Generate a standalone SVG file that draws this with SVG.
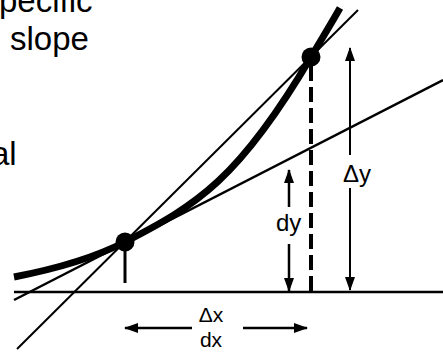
<svg xmlns="http://www.w3.org/2000/svg" width="443" height="352" viewBox="0 0 443 352">
<defs>
<style>
.t{font-family:"Liberation Sans",Arial,sans-serif;fill:#000}
.ln{stroke:#000;fill:none;stroke-linecap:butt}
</style>
<marker id="ah" viewBox="0 0 14 10" refX="13" refY="5" markerWidth="14" markerHeight="10" markerUnits="userSpaceOnUse" orient="auto">
<path d="M0,0 L14,5 L0,10 Z" fill="#000"/>
</marker>
</defs>
<rect width="443" height="352" fill="#fff"/>
<g id="texts">
<text class="t" x="-1" y="12" font-size="33">pecific</text>
<text class="t" x="10" y="50" font-size="33">slope</text>
<text class="t" x="-9" y="165" font-size="33">al</text>
</g>
<g id="connectors">
<line class="ln" x1="14" y1="292" x2="443" y2="292" stroke-width="2.5"/>
<line class="ln" x1="14" y1="300" x2="443" y2="80" stroke-width="2.5"/>
<line class="ln" x1="17" y1="349" x2="358" y2="10" stroke-width="2"/>
<path class="ln" d="M14,277 C50,270 90,260 125,242 C197,205 239,179 311,57 C321,40 331,24 340,8" stroke-width="7"/>
<line class="ln" x1="125" y1="242" x2="125" y2="283" stroke-width="3"/>
<line class="ln" x1="311" y1="66" x2="311" y2="292" stroke-width="4" stroke-dasharray="15 6"/>
<line class="ln" x1="350" y1="155" x2="350" y2="48" stroke-width="2" marker-end="url(#ah)"/>
<line class="ln" x1="350" y1="188" x2="350" y2="290" stroke-width="2" marker-end="url(#ah)"/>
<line class="ln" x1="289" y1="207" x2="289" y2="170" stroke-width="2.5" marker-end="url(#ah)"/>
<line class="ln" x1="289" y1="244" x2="289" y2="291" stroke-width="2.5" marker-end="url(#ah)"/>
<line class="ln" x1="192" y1="328" x2="125" y2="328" stroke-width="2.5" marker-end="url(#ah)"/>
<line class="ln" x1="243" y1="328" x2="307" y2="328" stroke-width="2.5" marker-end="url(#ah)"/>
</g>
<g id="point1"><circle cx="125" cy="242" r="9.5" fill="#000"/></g>
<g id="point2"><circle cx="311" cy="57" r="9.5" fill="#000"/></g>
<g id="labels">
<text class="t" x="343" y="182" font-size="24">Δy</text>
<text class="t" x="276" y="231" font-size="24">dy</text>
<text class="t" x="211" y="322" font-size="21" text-anchor="middle">Δx</text>
<text class="t" x="211" y="347" font-size="21" text-anchor="middle">dx</text>
</g>
</svg>
